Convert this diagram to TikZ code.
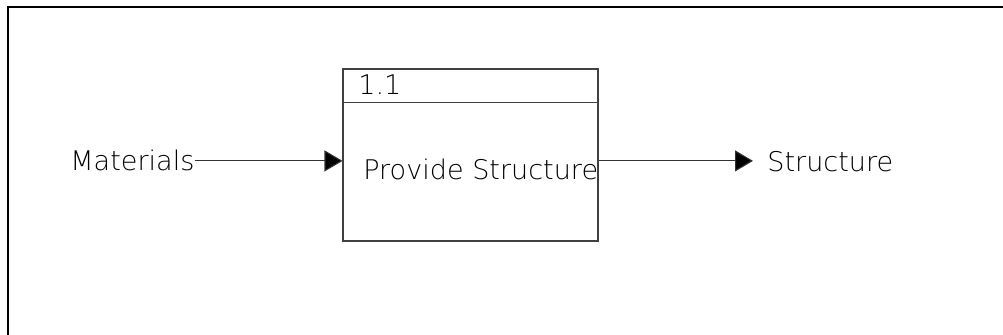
\documentclass[tikz,border=0pt]{standalone}
\usepackage{fontspec}
\setmainfont{DejaVu Sans ExtraLight}
\usepackage{tikz}
\usetikzlibrary{positioning,arrows.meta,calc}

\begin{document}
\begin{tikzpicture}[
          every node/.style={font=\fontsize{15.4}{18}\selectfont, text=black, inner sep=0pt},
          proc/.style={draw=black!75, line width=0.6pt, rectangle, minimum width=5.1cm, minimum height=3.44cm},
          flow/.style={-{Triangle[length=3.6mm, width=4.2mm, fill=black]}, line width=0.6pt, black!80},
          label/.style={anchor=base west}
      ]
        \useasboundingbox (0,0) rectangle (20.06,6.7);
        \begin{scope}
          \clip (0,0) rectangle (20.06,6.7);
          \draw[line width=0.6pt] (0.16,-1) rectangle (21,6.56);
        \end{scope}
        \node[proc] (p11) at (9.41,3.6) {};
        \draw[draw=black!75, line width=0.6pt] ($(p11.north west)+(0,-0.68)$) -- ($(p11.north east)+(0,-0.68)$);
        \node[label] (num) at (7.16,4.8) {1.1};
        \node[label] (name) at (7.26,3.1) {Provide Structure};
        \node[label] (mat) at (1.4,3.28) {Materials};
        \node[label] (out) at (15.34,3.27) {Structure};
        \coordinate (tip) at ($(out.west |- mat.east)+(-0.28,0)$);
        \draw[flow] (mat.east) -- (mat.east -| p11.west);
        \draw[flow] (mat.east -| p11.east) -- (tip);
\end{tikzpicture}
\end{document}
